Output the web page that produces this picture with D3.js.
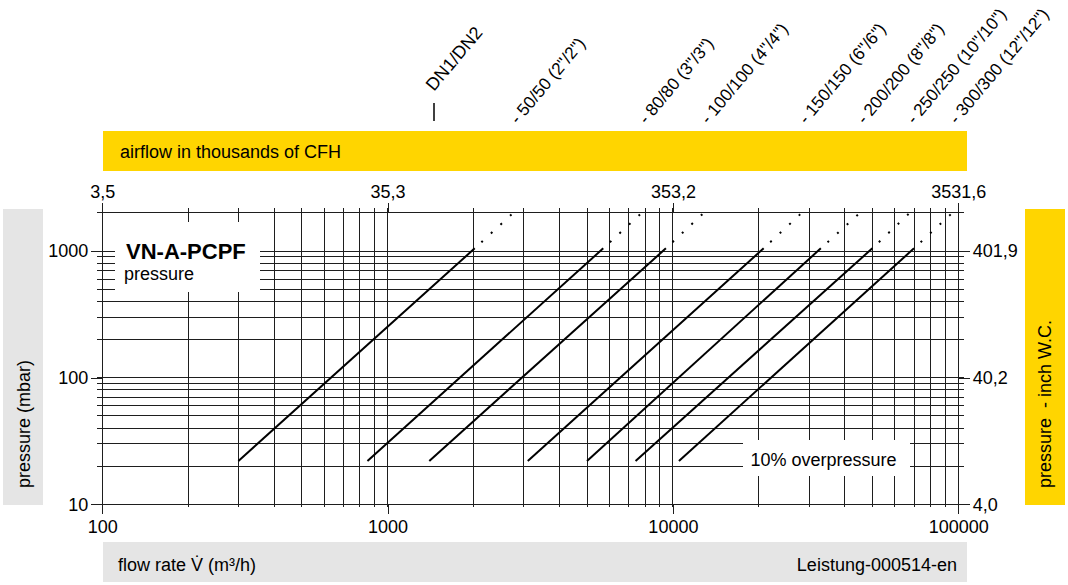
<!DOCTYPE html>
<html>
<head>
<meta charset="utf-8">
<script src="https://cdn.jsdelivr.net/npm/d3@7"></script>
<style>
  html, body { margin: 0; padding: 0; background: #fff; }
  svg { display: block; font-family: "Liberation Sans", Arial, sans-serif; }
</style>
</head>
<body>
<svg id="chart" width="1068" height="585"></svg>
<script>
// ---------- data ----------
const flowTicks = [100, 1000, 10000, 100000];
const flowTickLabels = ["100", "1000", "10000", "100000"];
const cfhTickLabels = ["3,5", "35,3", "353,2", "3531,6"];
const pressureTicks = [10, 100, 1000];
const pressureTickLabels = ["10", "100", "1000"];
const inchTickLabels = ["4,0", "40,2", "401,9"];

const sizeLabels = ["- 50/50 (2\"/2\")", "- 80/80 (3\"/3\")", "- 100/100 (4\"/4\")",
  "- 150/150 (6\"/6\")", "- 200/200 (8\"/8\")", "- 250/250 (10\"/10\")", "- 300/300 (12\"/12\")"];
const flowStart     = [300, 850, 1400, 3100, 5000, 7400, 10500];
const flowSolidEnd  = [2020, 5700, 9450, 20800, 33000, 50000, 70000];
const flowDottedEnd = [2730, 7700, 12700, 28000, 44800, 67000, 94400];
const pressureStart = [22, 22, 22, 22, 22, 22, 22];
const pressureSolidEnd = [1050, 1050, 1050, 1050, 1050, 1050, 1050];
const pressureDottedEnd = [1960, 1960, 1960, 1960, 1960, 1960, 1960];

// ---------- layout ----------
const svg = d3.select("#chart");
const YELLOW = "#FFD500", GRAY = "#E5E5E5", GRID = "#1e1e1e";
const x = d3.scaleLog().domain([100, 100000]).range([102.3, 958.2]);
const y = d3.scaleLog().domain([10, 2000]).range([504.3, 212.9]);

// bands
svg.append("rect").attr("x", 103).attr("y", 131).attr("width", 864).attr("height", 40).attr("fill", YELLOW);
svg.append("text").attr("x", 120).attr("y", 158).attr("font-size", 18).text("airflow in thousands of CFH");

svg.append("rect").attr("x", 103).attr("y", 542).attr("width", 864).attr("height", 40).attr("fill", GRAY);
svg.append("text").attr("x", 118).attr("y", 570.5).attr("font-size", 18).text("flow rate V\u0307 (m\u00B3/h)");
svg.append("text").attr("x", 957).attr("y", 570.5).attr("font-size", 18).attr("text-anchor", "end").text("Leistung-000514-en");

svg.append("rect").attr("x", 3).attr("y", 209).attr("width", 40).attr("height", 296).attr("fill", GRAY);
svg.append("text").attr("transform", "translate(29.5,488) rotate(-90)").attr("font-size", 18).text("pressure (mbar)");

svg.append("rect").attr("x", 1025).attr("y", 209).attr("width", 40).attr("height", 296).attr("fill", YELLOW);
svg.append("text").attr("transform", "translate(1051,488) rotate(-90)").attr("font-size", 18)
  .attr("xml:space", "preserve").style("white-space", "pre").text("pressure  - inch W.C.");

// grid
const g = svg.append("g").attr("stroke", GRID).attr("stroke-width", 1).attr("shape-rendering", "crispEdges");
const xGrid = x.ticks();
const yGrid = y.ticks();
g.selectAll("line.v").data(xGrid).join("line").attr("class", "v")
  .attr("x1", d => x(d)).attr("x2", d => x(d))
  .attr("y1", y(2000) - 5).attr("y2", y(10) + 3);
g.selectAll("line.h").data(yGrid).join("line").attr("class", "h")
  .attr("x1", x(100) - 5.5).attr("x2", x(100000) + 6)
  .attr("y1", d => y(d)).attr("y2", d => y(d));

// axes
function styleAxis(sel) {
  sel.select(".domain").remove();
  sel.selectAll(".tick line").attr("stroke", GRID).attr("shape-rendering", "crispEdges");
  sel.selectAll(".tick text").attr("fill", "#000").attr("font-size", 18)
    .attr("font-family", "'Liberation Sans', Arial, sans-serif");
}
svg.append("g").attr("transform", `translate(0,${y(10)})`)
  .call(d3.axisBottom(x).tickValues(flowTicks).tickFormat((d, i) => flowTickLabels[i]).tickSize(10).tickPadding(6))
  .call(styleAxis);
svg.append("g").attr("transform", `translate(0,${y(2000)})`)
  .call(d3.axisTop(x).tickValues(flowTicks).tickFormat((d, i) => cfhTickLabels[i]).tickSize(10).tickPadding(5))
  .call(styleAxis);
svg.append("g").attr("transform", `translate(${x(100)},0)`)
  .call(d3.axisLeft(y).tickValues(pressureTicks).tickFormat((d, i) => pressureTickLabels[i]).tickSize(11).tickPadding(3))
  .call(styleAxis);
svg.append("g").attr("transform", `translate(${x(100000)},0)`)
  .call(d3.axisRight(y).tickValues(pressureTicks).tickFormat((d, i) => inchTickLabels[i]).tickSize(12).tickPadding(2.5))
  .call(styleAxis);

// white label boxes
svg.append("rect").attr("x", 115).attr("y", 222).attr("width", 145).attr("height", 70).attr("fill", "#fff");
svg.append("text").attr("x", 126).attr("y", 258.5).attr("font-size", 22).attr("font-weight", "bold").text("VN-A-PCPF");
svg.append("text").attr("x", 124).attr("y", 280).attr("font-size", 18).text("pressure");

svg.append("rect").attr("x", 743).attr("y", 440).attr("width", 167).attr("height", 36).attr("fill", "#fff");
svg.append("text").attr("x", 750.5).attr("y", 466).attr("font-size", 18).text("10% overpressure");

// characteristic lines
const idx = d3.range(flowStart.length);
const lineGen = d3.line().x(d => x(d[0])).y(d => y(d[1]));
svg.append("g").selectAll("path.solid").data(idx).join("path").attr("class", "solid")
  .attr("d", i => lineGen([[flowStart[i], pressureStart[i]], [flowSolidEnd[i], pressureSolidEnd[i]]]))
  .attr("fill", "none").attr("stroke", "#000").attr("stroke-width", 2);
svg.append("g").selectAll("path.dot").data(idx).join("path").attr("class", "dot")
  .attr("d", i => lineGen([[flowSolidEnd[i], pressureSolidEnd[i]], [flowDottedEnd[i], pressureDottedEnd[i]]]))
  .attr("fill", "none").attr("stroke", "#000").attr("stroke-width", 2)
  .attr("stroke-dasharray", "2 11").attr("stroke-dashoffset", 4);

// DN labels
svg.append("text").attr("transform", "translate(434,92) rotate(-50)").attr("font-size", 18).text("DN1/DN2");
svg.append("line").attr("x1", 434).attr("x2", 434).attr("y1", 103).attr("y2", 121).attr("stroke", "#000").attr("stroke-width", 1.5);
svg.append("g").selectAll("text").data(idx).join("text")
  .attr("transform", i => `translate(${x(flowDottedEnd[i]) + 6},125) rotate(-50)`)
  .attr("font-size", 17.2).text(i => sizeLabels[i]);
</script>
</body>
</html>
